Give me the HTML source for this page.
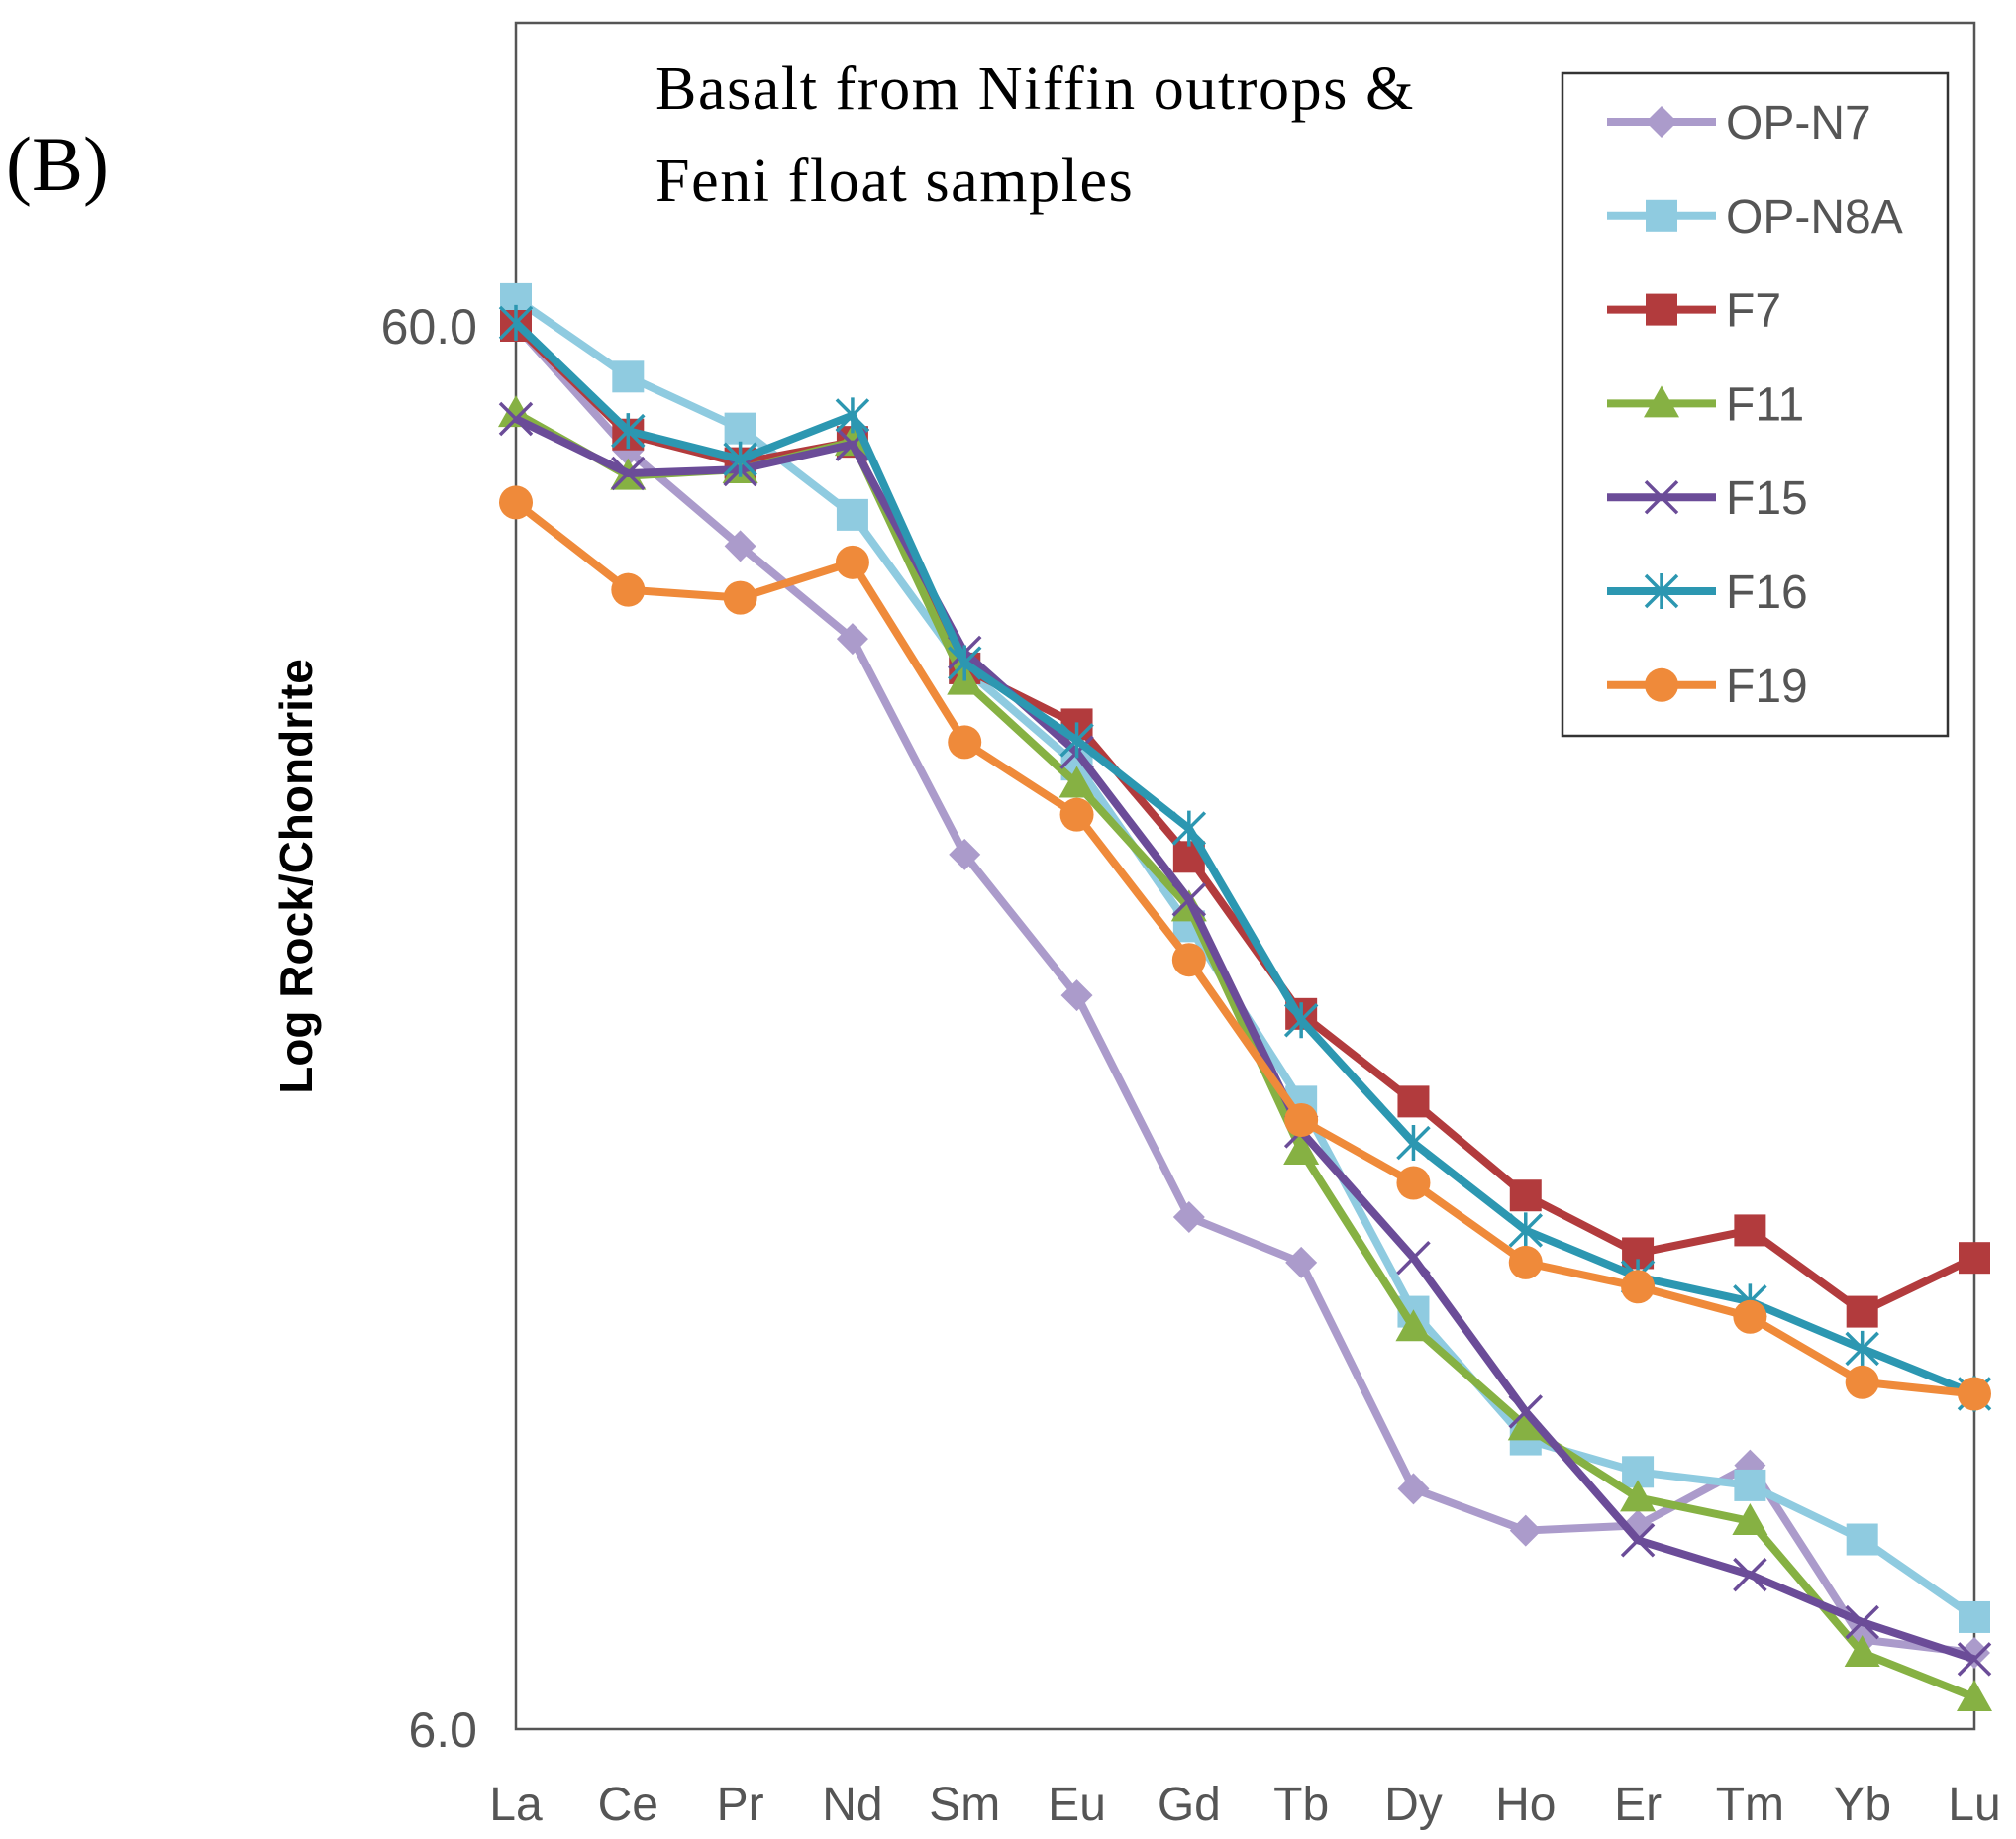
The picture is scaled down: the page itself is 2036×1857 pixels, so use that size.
<!DOCTYPE html>
<html><head><meta charset="utf-8"><style>
html,body{margin:0;padding:0;background:#fff;}
svg{display:block;}
</style></head><body>
<svg id="chart" width="2036" height="1857" viewBox="0 0 2036 1857" xmlns="http://www.w3.org/2000/svg">
<rect x="0" y="0" width="2036" height="1857" fill="#fff"/>
<text x="6" y="192" font-family="Liberation Serif, serif" font-size="78" fill="#000">(B)</text>
<rect x="521" y="23" width="1473" height="1723" fill="none" stroke="#555" stroke-width="2.5"/>
<text x="662" y="110" font-family="Liberation Serif, serif" font-size="62" letter-spacing="1.6" fill="#000">Basalt from Niffin outrops &amp;</text>
<text x="662" y="203" font-family="Liberation Serif, serif" font-size="62" letter-spacing="1.6" fill="#000">Feni float samples</text>
<text transform="translate(315,885) rotate(-90)" text-anchor="middle" font-family="Liberation Sans, sans-serif" font-weight="bold" font-size="46" fill="#000">Log Rock/Chondrite</text>
<g id="ticks"></g>
<g id="series"></g>
<g id="legend"></g>
</svg>
<script>
const categories = ["La","Ce","Pr","Nd","Sm","Eu","Gd","Tb","Dy","Ho","Er","Tm","Yb","Lu"];
const yTicks = [6, 60];
const yTickLabels = ["6.0", "60.0"];
const seriesNames = ["OP-N7","OP-N8A","F7","F11","F15","F16","F19"];
const opN7 = [60, 48.9, 41.8, 35.9, 25.2, 20.0, 13.9, 12.9, 8.90, 8.31, 8.38, 9.25, 6.95, 6.80];
const opN8A = [62.7, 55.2, 50.7, 44.0, 34.2, 29.2, 22.4, 16.8, 11.9, 9.65, 9.15, 8.95, 8.19, 7.21];
const f7 = [60, 50.2, 47.9, 49.6, 34.2, 31.2, 25.1, 19.4, 16.8, 14.4, 13.1, 13.6, 11.9, 13.0];
const f11 = [52.0, 46.9, 47.4, 49.6, 33.5, 28.3, 23.1, 15.5, 11.6, 9.86, 8.77, 8.44, 6.80, 6.32];
const f15 = [51.5, 47.1, 47.4, 49.4, 35.1, 29.8, 23.4, 16.0, 13.0, 10.1, 8.18, 7.73, 7.15, 6.73];
const f16 = [60.3, 50.5, 48.2, 51.8, 34.5, 30.4, 26.3, 19.2, 15.7, 13.6, 12.6, 12.1, 11.2, 10.4];
const f19 = [44.9, 38.9, 38.4, 40.7, 30.3, 26.9, 21.2, 16.3, 14.7, 12.9, 12.4, 11.8, 10.6, 10.4];
const seriesData = [opN7, opN8A, f7, f11, f15, f16, f19];
const colors = ["#ab9bcb","#8fcbe0","#b23b3d","#86b143","#6b4c98","#2c97b1","#ef8a3a"];
const markers = ["diamond","square","square","triangle","x","star","circle"];

const NS = "http://www.w3.org/2000/svg";
const X0 = 521, X1 = 1994, Y6 = 1746, Y60 = 329;
function xScale(i){ return X0 + i*(X1-X0)/(categories.length-1); }
function yScale(v){ return Y6 - (Math.log10(v) - Math.log10(6)) * (Y6 - Y60); }
function mk(tag, attrs, parent){ const e=document.createElementNS(NS,tag); for(const k in attrs) e.setAttribute(k,attrs[k]); parent.appendChild(e); return e; }

const ticks = document.getElementById('ticks');
yTicks.forEach((v,i)=>{
  const t = mk('text',{x:482,y:yScale(v)+18,'text-anchor':'end','font-family':'Liberation Sans, sans-serif','font-size':50,fill:'#555'},ticks);
  t.textContent = yTickLabels[i];
  
  
});
categories.forEach((c,i)=>{
  const t = mk('text',{x:xScale(i),y:1838,'text-anchor':'middle','font-family':'Liberation Sans, sans-serif','font-size':48,fill:'#555'},ticks);
  t.textContent = c;
  
  
});

function drawMarker(type, x, y, color, parent){
  const s = 16;
  let e;
  if(type==="diamond") e = mk('polygon',{points:`${x},${y-s} ${x+s},${y} ${x},${y+s} ${x-s},${y}`,fill:color},parent);
  else if(type==="square") e = mk('rect',{x:x-s,y:y-s,width:2*s,height:2*s,fill:color},parent);
  else if(type==="triangle") e = mk('polygon',{points:`${x},${y-s-2} ${x+s+2},${y+s-2} ${x-s-2},${y+s-2}`,fill:color},parent);
  else if(type==="circle") e = mk('circle',{cx:x,cy:y,r:s+1,fill:color},parent);
  else if(type==="x") e = mk('path',{d:`M${x-s},${y-s}L${x+s},${y+s}M${x-s},${y+s}L${x+s},${y-s}`,stroke:color,'stroke-width':3.5,fill:'none'},parent);
  else if(type==="star") e = mk('path',{d:`M${x-s},${y-s}L${x+s},${y+s}M${x-s},${y+s}L${x+s},${y-s}M${x},${y-s-2}L${x},${y+s+2}`,stroke:color,'stroke-width':3.5,fill:'none'},parent);
  return e;
}

const sg = document.getElementById('series');
seriesData.forEach((vals,si)=>{
  const g = mk('g',{},sg);
  
  
  const pts = vals.map((v,i)=>xScale(i)+','+yScale(v)).join(' ');
  const line = mk('polyline',{points:pts,fill:'none',stroke:colors[si],'stroke-width':8,'stroke-linejoin':'round'},g);
  
  
  vals.forEach((v,i)=>{
    const m = drawMarker(markers[si], xScale(i), yScale(v), colors[si], g);
    
    
  });
});

const lg = document.getElementById('legend');


mk('rect',{x:1578,y:74,width:389,height:669,fill:'#fff',stroke:'#333','stroke-width':2.5},lg);
seriesNames.forEach((n,i)=>{
  const y = 123 + i*94.8;
  const g = mk('g',{},lg);
  
  
  mk('line',{x1:1623,y1:y,x2:1733,y2:y,stroke:colors[i],'stroke-width':8},g);
  drawMarker(markers[i],1678,y,colors[i],g);
  const t = mk('text',{x:1743,y:y+17,'font-family':'Liberation Sans, sans-serif','font-size':48,fill:'#555'},g);
  t.textContent = n;
});
</script>
</body></html>
